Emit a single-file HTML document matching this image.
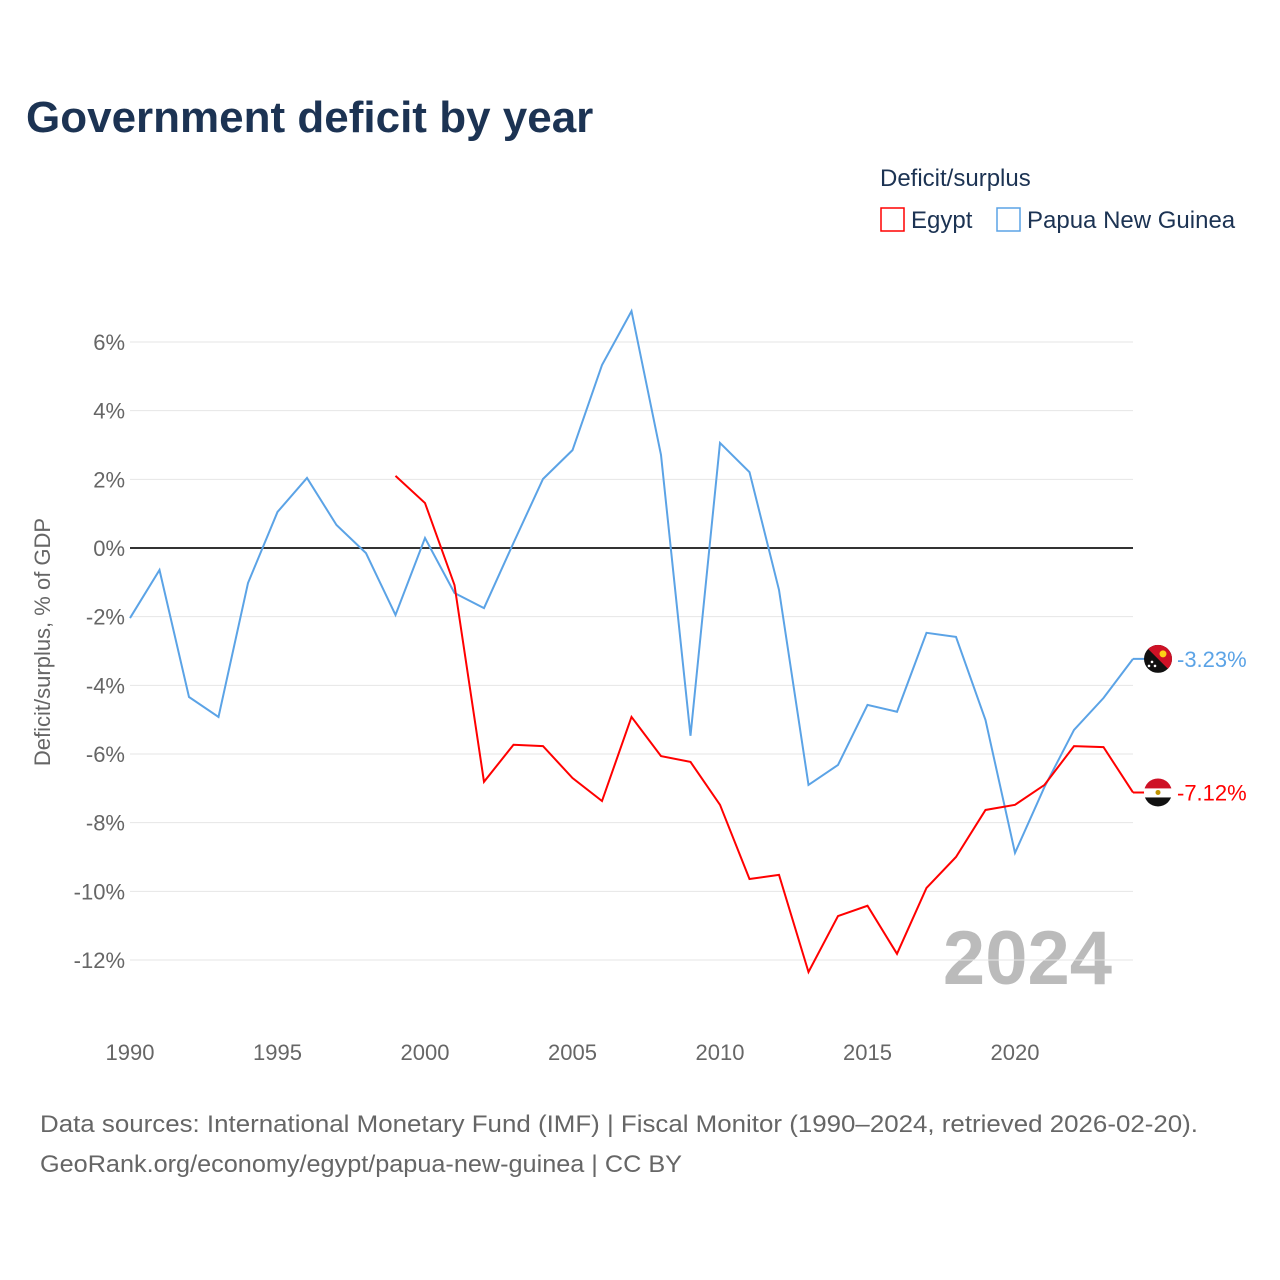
<!DOCTYPE html>
<html><head><meta charset="utf-8"><style>
body{margin:0;background:#fff;font-family:"Liberation Sans",sans-serif}
svg{display:block}
</style></head><body>
<svg id="chart" width="1280" height="1280" xmlns="http://www.w3.org/2000/svg" font-family="Liberation Sans, sans-serif">
<defs>
<clipPath id="flagClipPng"><circle cx="0" cy="0" r="14"/></clipPath>
</defs>
<rect width="1280" height="1280" fill="#fff"/>
<text x="26" y="132" font-size="44" font-weight="bold" fill="#1c3353">Government deficit by year</text>
<text x="880" y="186" font-size="24" fill="#1c3353">Deficit/surplus</text>
<g><rect x="881" y="208" width="23" height="23" fill="none" stroke="#f00" stroke-width="1.5"/><text x="911" y="228" font-size="24" fill="#1c3353">Egypt</text></g>
<g><rect x="997" y="208" width="23" height="23" fill="none" stroke="#5ba3e6" stroke-width="1.5"/><text x="1027" y="228" font-size="24" fill="#1c3353">Papua New Guinea</text></g>
<text transform="translate(50,642) rotate(-90)" text-anchor="middle" font-size="22" fill="#666">Deficit/surplus, % of GDP</text>
<text x="1112" y="984" text-anchor="end" font-size="76" font-weight="bold" fill="#bbb">2024</text>
<g id="grid"></g><g id="series"></g>
<text x="40" y="1132" font-size="24" fill="#666" textLength="1158" lengthAdjust="spacingAndGlyphs">Data sources: International Monetary Fund (IMF) | Fiscal Monitor (1990–2024, retrieved 2026-02-20).</text>
<text x="40" y="1172" font-size="24" fill="#666" textLength="642" lengthAdjust="spacingAndGlyphs">GeoRank.org/economy/egypt/papua-new-guinea | CC BY</text>
</svg>
<script>
const years=[];for(let y=1990;y<=2024;y++)years.push(y);
const pngValues=[-2.04,-0.64,-4.34,-4.92,-1.02,1.05,2.04,0.67,-0.15,-1.95,0.29,-1.31,-1.75,0.15,2.01,2.85,5.33,6.9,2.71,-5.47,3.06,2.21,-1.22,-6.9,-6.32,-4.57,-4.77,-2.47,-2.59,-5.01,-8.88,-6.96,-5.3,-4.37,-3.23];
const egyptYears=[1999,2000,2001,2002,2003,2004,2005,2006,2007,2008,2009,2010,2011,2012,2013,2014,2015,2016,2017,2018,2019,2020,2021,2022,2023,2024];
const egyptValues=[2.1,1.31,-1.08,-6.81,-5.73,-5.77,-6.7,-7.37,-4.92,-6.06,-6.23,-7.48,-9.64,-9.52,-12.35,-10.72,-10.42,-11.82,-9.9,-9.0,-7.63,-7.48,-6.9,-5.77,-5.8,-7.12];
const yTicks=[6,4,2,0,-2,-4,-6,-8,-10,-12];
const xTicks=[1990,1995,2000,2005,2010,2015,2020];
const NS='http://www.w3.org/2000/svg';
const X=yr=>130+(yr-1990)*(1133-130)/34;
const Y=v=>548-v*(548-342)/6;
function mk(t,a,p){const e=document.createElementNS(NS,t);for(const k in a)e.setAttribute(k,a[k]);p.appendChild(e);return e;}
const g=document.getElementById('grid'),s=document.getElementById('series');
yTicks.forEach(v=>{
 const l=mk('line',{x1:130,x2:1133,y1:Y(v),y2:Y(v),stroke:v===0?'#333':'#e6e6e6','stroke-width':v===0?2:1},g);
 
 
 const t=mk('text',{x:125,y:Y(v)+8,'text-anchor':'end','font-size':22,fill:'#666'},g);
 t.textContent=v+'%';
 
 
});
xTicks.forEach(yr=>{
 const t=mk('text',{x:X(yr),y:1060,'text-anchor':'middle','font-size':22,fill:'#666'},g);
 t.textContent=yr;
 
 
});
function line(xs,vs,col,name){
 const p=mk('polyline',{points:xs.map((x,i)=>X(x)+','+Y(vs[i])).join(' '),fill:'none',stroke:col,'stroke-width':2},s);
 
 
}
line(years,pngValues,'#5ba3e6','png-line');
line(egyptYears,egyptValues,'#f00','egypt-line');
function endLabel(v,col,name){
 const y=Y(v);
 mk('line',{x1:1133,x2:1150,y1:y,y2:y,stroke:col,'stroke-width':2},s);
 const f=mk('g',{transform:'translate(1158,'+y+')','clip-path':'url(#flagClipPng)'},s);
 
 
 if(name==='png'){
  mk('rect',{x:-14,y:-14,width:28,height:28,fill:'#111'},f);
  mk('polygon',{points:'-14,-14 14,-14 14,14',fill:'#ce1126'},f);
  mk('circle',{cx:5,cy:-5,r:3.5,fill:'#fcd116'},f);
  mk('circle',{cx:-6,cy:3,r:1.3,fill:'#fff'},f);
  mk('circle',{cx:-3,cy:7,r:1.3,fill:'#fff'},f);
  mk('circle',{cx:-9,cy:7,r:1.3,fill:'#fff'},f);
 } else {
  mk('rect',{x:-14,y:-14,width:28,height:10,fill:'#ce1126'},f);
  mk('rect',{x:-14,y:-4,width:28,height:9,fill:'#fff'},f);
  mk('rect',{x:-14,y:5,width:28,height:9,fill:'#111'},f);
  mk('circle',{cx:0,cy:0,r:2.5,fill:'#c09300'},f);
 }
 const t=mk('text',{x:1177,y:y+8,'font-size':22,fill:col},s);
 t.textContent=v.toFixed(2)+'%';
 
 
}
endLabel(pngValues[pngValues.length-1],'#5ba3e6','png');
endLabel(egyptValues[egyptValues.length-1],'#f00','egypt');
</script>
</body></html>
